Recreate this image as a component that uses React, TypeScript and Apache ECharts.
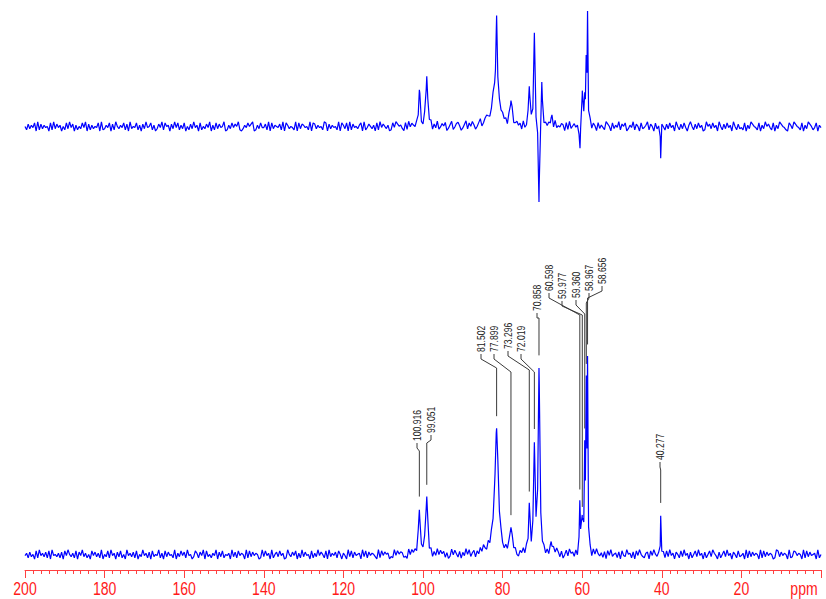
import React, { useEffect, useRef } from 'react';
import * as echarts from 'echarts';

// ---- data ----
// labelled peaks (ppm) of the lower (broadband) spectrum
const peakPpm = [100.916, 99.051, 81.502, 77.899, 73.296, 72.019, 70.858, 60.598, 59.977, 59.36, 58.967, 58.656, 40.277];
const bottomHeight = [45, 57, 110, 24, 46, 106, 183, 50, 26, 100, 150, 180, 40];
const bottomWidth = [0.28, 0.28, 0.45, 0.3, 0.18, 0.22, 0.22, 0.14, 0.12, 0.14, 0.1, 0.1, 0.08];
// unlabelled features of the lower spectrum
const bottomExtraPpm = [81.9, 67.8];
const bottomExtraHeight = [18, 12];
const bottomExtraWidth = [1.3, 0.35];

// upper (DEPT-like) spectrum peaks
const topPpm = [100.916, 99.051, 81.8, 81.502, 77.899, 73.296, 72.019, 70.858, 70.15, 67.8, 60.55, 59.977, 59.36, 59.0, 58.656, 40.277];
const topHeight = [35, 50, 32, 82, 24, 38, 93, -81, 44, 10, -25, 36, 26, 60, 108, -31];
const topWidth = [0.25, 0.25, 1.2, 0.2, 0.3, 0.18, 0.18, 0.12, 0.15, 0.35, 0.12, 0.12, 0.12, 0.12, 0.1, 0.08];

// x axis tick labels (ppm)
const xTickLabels = [200, 180, 160, 140, 120, 100, 80, 60, 40, 20];
const xUnit = 'ppm';

// baseline noise, one digit every 0.4 ppm from 200 ppm down to 0 ppm (4.5 = zero)
const bottomNoise =
  "46273518294637281945362718495362817493625184736291" +
  "53829461738251946372815394627183549261837452916384" +
  "72945138627491835264917382546193728465192837465129" +
  "38461925738461295374816293745182639475281936472851" +
  "64193827456193827465319284756132948576231948572613" +
  "49582716394857261394852716394825716384952716384957" +
  "21638495721648395726148395726143859627148395627148" +
  "93562718495362718493562718439562718495326718495362" +
  "57283946175283946172583946172583964172583946175283" +
  "46192837465192837465129837465192387465192837456192" +
  "5";
const topNoise =
  "52736481927364518293746152839471625384917263548192" +
  "36481729536482719354826173945826137492856173948263" +
  "81527394618253749162837459126384759213648579126384" +
  "47291836547291863542918376452918736452981736452918" +
  "63819274536819247536182947536128497563182947536182" +
  "29475816392475813692478513692748513692478513962475" +
  "74618293574618239574612839574618293547618293574618" +
  "18364927518364297518364927581364927518346927518364" +
  "95273846195273841695273846129573846195273846195273" +
  "42816397542816395742816397542186397542816397524816" +
  "4";

// ---- layout (pixels) for the peak labels: [textX, textBottomY, kneeY] ----
const labelLayout = [
  [417, 441, 451],
  [431, 433, 443],
  [481, 352, 368],
  [494, 352, 372],
  [508, 349, 370],
  [521, 352, 372],
  [537, 311, 318],
  [549, 291, 315],
  [562, 299, 315],
  [576, 298, 314],
  [589, 291, 303],
  [602, 284, 298],
  [660, 460, 470],
];

const STEP = 0.4;
const NOISE_SCALE = 1.15;
const FONT = "'Liberation Sans', Arial, sans-serif";

function lorentz(x: number, c: number, h: number, w: number) {
  const d = (x - c) / w;
  return h / (1 + d * d);
}

function signalAt(x: number, ppms: number[], hs: number[], ws: number[]) {
  let v = 0;
  for (let k = 0; k < ppms.length; k++) v += lorentz(x, ppms[k], hs[k], ws[k]);
  return v;
}

function buildSpectrum(ppms: number[], hs: number[], ws: number[], noise: string) {
  const noiseAt = (i: number) => {
    const c = noise.charCodeAt(Math.max(0, Math.min(noise.length - 1, i)));
    return isNaN(c) ? 0 : (c - 48 - 4.5) * NOISE_SCALE;
  };
  const pts: { x: number; n: number }[] = [];
  const count = Math.round(200 / STEP) + 1;
  for (let i = 0; i < count; i++) pts.push({ x: 200 - i * STEP, n: noiseAt(i) });
  ppms.forEach((p) => {
    const i = Math.round((200 - p) / STEP);
    pts.push({ x: p, n: noiseAt(i) * 0.3 });
  });
  pts.sort((a, b) => b.x - a.x);
  return pts.map(({ x, n }) => [x, +(n + signalAt(x, ppms, hs, ws)).toFixed(2)]);
}

export default function App() {
  const ref = useRef<HTMLDivElement>(null);
  useEffect(() => {
    if (!ref.current) return;
    const chart = echarts.init(ref.current, undefined, { renderer: 'svg' });
    const bPpm = peakPpm.concat(bottomExtraPpm);
    const bH = bottomHeight.concat(bottomExtraHeight);
    const bW = bottomWidth.concat(bottomExtraWidth);
    const bottomData = buildSpectrum(bPpm, bH, bW, bottomNoise);
    const topData = buildSpectrum(topPpm, topHeight, topWidth, topNoise);
    const red = '#ff4040';
    const labelRed = '#ff1a1a';
    chart.setOption({
      animation: false,
      backgroundColor: '#ffffff',
      grid: [
        { left: 25, right: 5, top: 0, height: 250 },
        { left: 25, right: 5, top: 250, height: 320 },
      ],
      xAxis: [
        { gridIndex: 0, type: 'value', min: 0, max: 200, inverse: true, show: false },
        {
          gridIndex: 1, type: 'value', min: 0, max: 200, inverse: true, interval: 20,
          axisLine: { show: true, onZero: false, lineStyle: { color: red, width: 1 } },
          axisTick: { show: true, length: 8, lineStyle: { color: red, width: 1 } },
          minorTick: { show: true, splitNumber: 10, length: 4, lineStyle: { color: red, width: 1 } },
          splitLine: { show: false },
          minorSplitLine: { show: false },
          axisLabel: { show: false },
        },
      ],
      yAxis: [
        { gridIndex: 0, type: 'value', min: -123, max: 127, show: false },
        { gridIndex: 1, type: 'value', min: -15, max: 305, show: false },
      ],
      series: [
        {
          type: 'line', xAxisIndex: 0, yAxisIndex: 0, data: topData, showSymbol: false,
          clip: false, lineStyle: { color: '#0000ff', width: 1.2 }, silent: true,
        },
        {
          type: 'line', xAxisIndex: 1, yAxisIndex: 1, data: bottomData, showSymbol: false,
          clip: false, lineStyle: { color: '#0000ff', width: 1.2 }, silent: true,
        },
      ],
    });

    const graphics: any[] = [];
    peakPpm.forEach((p, k) => {
      const [tx, ty, ky] = labelLayout[k];
      const top = signalAt(p, bPpm, bH, bW);
      const [px, py] = chart.convertToPixel({ xAxisIndex: 1, yAxisIndex: 1 }, [p, top]) as number[];
      const endY = py - 12;
      graphics.push({
        type: 'polyline',
        shape: { points: [[tx, ty + 2], [tx, ty + 7], [px, ky], [px, endY]] },
        style: { stroke: '#3a3a3a', lineWidth: 1, fill: 'none' },
        silent: true,
      });
      graphics.push({
        type: 'text', x: tx, y: ty, rotation: Math.PI / 2, scaleX: 0.78,
        style: {
          text: p.toFixed(3), fontSize: 11, fontFamily: FONT, fill: '#222',
          textAlign: 'left', textVerticalAlign: 'middle',
        },
        silent: true,
      });
    });
    xTickLabels.forEach((v) => {
      const [x] = chart.convertToPixel({ xAxisIndex: 1, yAxisIndex: 1 }, [v, 0]) as number[];
      graphics.push({
        type: 'text', x, y: 589, scaleX: 0.74,
        style: {
          text: String(v), fontSize: 19, fontFamily: FONT, fill: labelRed,
          textAlign: 'center', textVerticalAlign: 'middle',
        },
        silent: true,
      });
    });
    graphics.push({
      type: 'text', x: 804, y: 589, scaleX: 0.74,
      style: {
        text: xUnit, fontSize: 19, fontFamily: FONT, fill: labelRed,
        textAlign: 'center', textVerticalAlign: 'middle',
      },
      silent: true,
    });
    chart.setOption({ graphic: graphics });
    return () => chart.dispose();
  }, []);
  return <div ref={ref} style={{ position: 'absolute', left: 0, top: 0, width: 826, height: 599 }} />;
}
